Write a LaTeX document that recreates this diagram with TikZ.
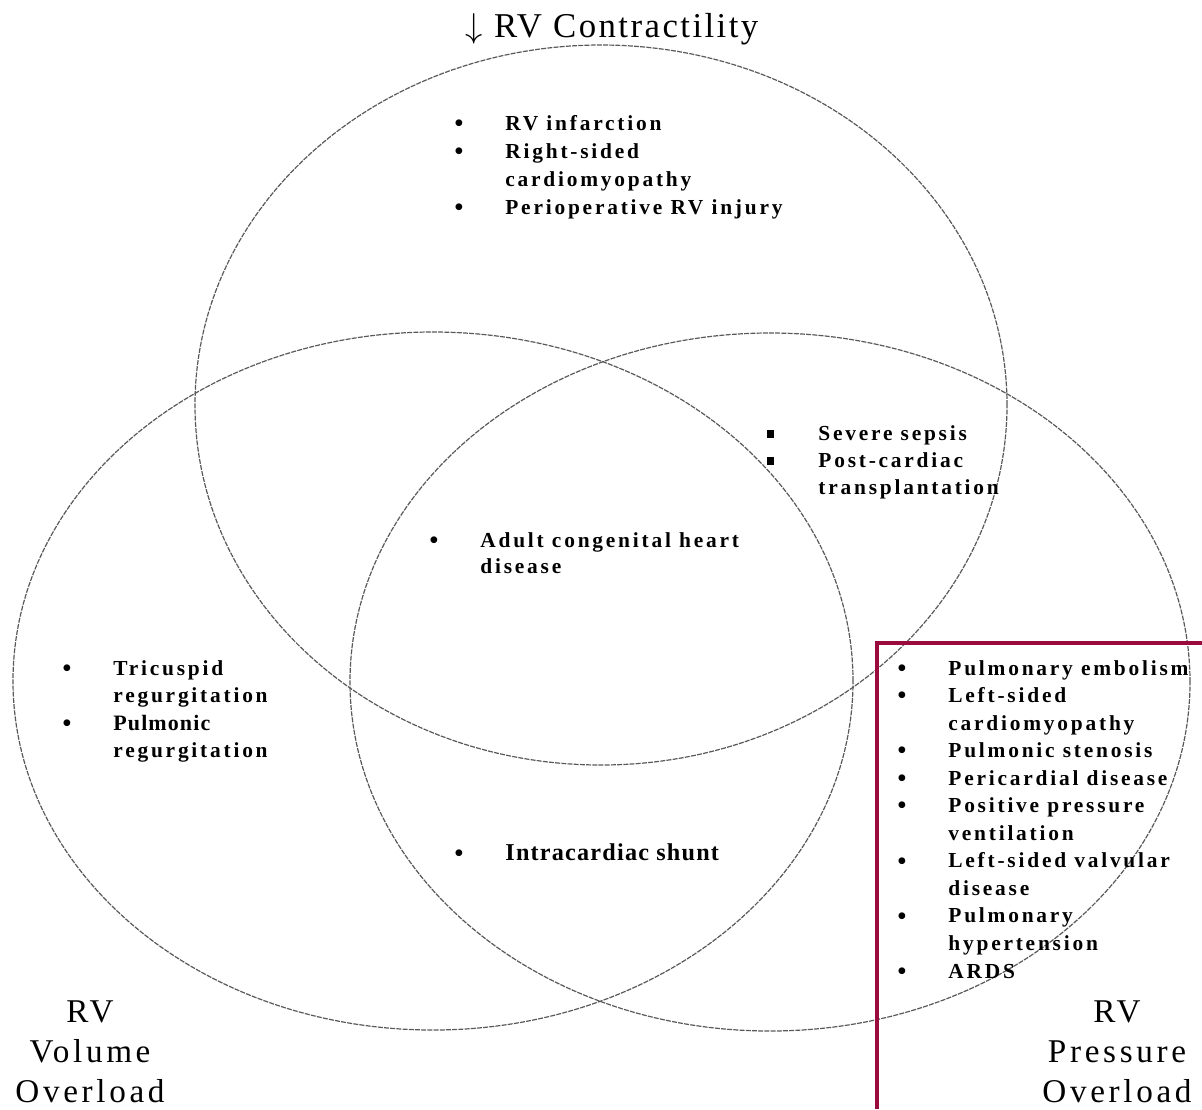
\documentclass[tikz,border=0pt]{standalone}
\usepackage{fontspec}
\setmainfont{Liberation Serif}
\newfontfamily\itemfont{Liberation Serif}[LetterSpace=13]
\newfontfamily\tightfont{Liberation Serif}[LetterSpace=5]
\newfontfamily\headfont{Liberation Serif}[LetterSpace=7]
\newfontfamily\cornerfont{Liberation Serif}[LetterSpace=11]
\definecolor{boxred}{RGB}{155,10,60}
% bullets hang left of the text start
\newcommand\bul{\llap{\raisebox{-0.6pt}{\fontsize{12.5}{12}\selectfont\textbullet}\hspace{21pt}}}
\newcommand\sqbul{\llap{\rule[1.2pt]{3.6pt}{3.6pt}\hspace{22pt}}}

\begin{document}
\begin{tikzpicture}[
        x=0.5pt, y=-0.5pt,
        ring/.style={draw=black!65, line width=0.6pt, dash pattern=on 2.5pt off 0.6pt},
        itemtext/.style={font={\itemfont\bfseries\fontsize{10.7}{12}\selectfont}, anchor=base west, inner sep=0pt},
        tighttext/.style={itemtext, font={\tightfont\bfseries\fontsize{11}{12}\selectfont}},
        corner/.style={font={\cornerfont\fontsize{16.6}{20}\selectfont}, anchor=base, inner sep=0pt},
        title/.style={font={\headfont\fontsize{17.4}{20}\selectfont}, anchor=base, inner sep=0pt}
    ]
        \useasboundingbox (0,0) rectangle (1202,1109);

        % three overlapping rings
        \draw[ring] (601,405) ellipse [x radius=203pt, y radius=180pt];
        \draw[ring] (433,681) ellipse [x radius=210pt, y radius=174.5pt];
        \draw[ring] (770,682) ellipse [x radius=210pt, y radius=174.5pt];

        % highlight frame, runs off the page edge
        \draw[boxred, line width=2.4pt] (877,1109) -- (877,643) -- (1202,643);

        \node[title] (contr) at (612,37) {$\downarrow$ RV Contractility};

        % RV contractility only
        \node[itemtext] (contr-1) at (505,130) {\bul RV infarction};
        \node[itemtext] (contr-2) at (505,158) {\bul Right-sided};
        \node[itemtext] (contr-3) at (505,186) {cardiomyopathy};
        \node[itemtext] (contr-4) at (505,214) {\bul Perioperative RV injury};

        % contractility + pressure
        \node[itemtext] (sepsis-1) at (818,440) {\sqbul Severe sepsis};
        \node[itemtext] (sepsis-2) at (818,467) {\sqbul Post-cardiac};
        \node[itemtext] (sepsis-3) at (818,494) {transplantation};

        % all three
        \node[itemtext] (acHD-1) at (480,547) {\bul Adult congenital heart};
        \node[itemtext] (acHD-2) at (480,573) {disease};

        % volume only
        \node[itemtext] (vol-1) at (113,675) {\bul Tricuspid};
        \node[itemtext] (vol-2) at (113,702) {regurgitation};
        \node[tighttext] (vol-3) at (113,730) {\bul Pulmonic};
        \node[itemtext] (vol-4) at (113,757) {regurgitation};

        % volume + pressure
        \node[tighttext, font={\tightfont\bfseries\fontsize{12.1}{12}\selectfont}] (shunt) at (505,860) {\bul Intracardiac shunt};

        % pressure only
        \foreach \txt [count=\i] in {{\bul Pulmonary embolism}, {\bul Left-sided}, cardiomyopathy,
            {\bul Pulmonic stenosis}, {\bul Pericardial disease}, {\bul Positive pressure}, ventilation,
            {\bul Left-sided valvular}, disease, {\bul Pulmonary}, hypertension, {\bul ARDS}}
            \node[itemtext] (press-\i) at (948,{675+27.55*(\i-1)}) {\txt};

        \node[corner] (vol-a) at (90,1022) {RV};
        \node[corner] (vol-b) at (90,1062) {Volume};
        \node[corner] (vol-c) at (90,1102) {Overload};
        \node[corner] (press-a) at (1117,1022) {RV};
        \node[corner] (press-b) at (1117,1062) {Pressure};
        \node[corner] (press-c) at (1117,1102) {Overload};
    \end{tikzpicture}
\end{document}
